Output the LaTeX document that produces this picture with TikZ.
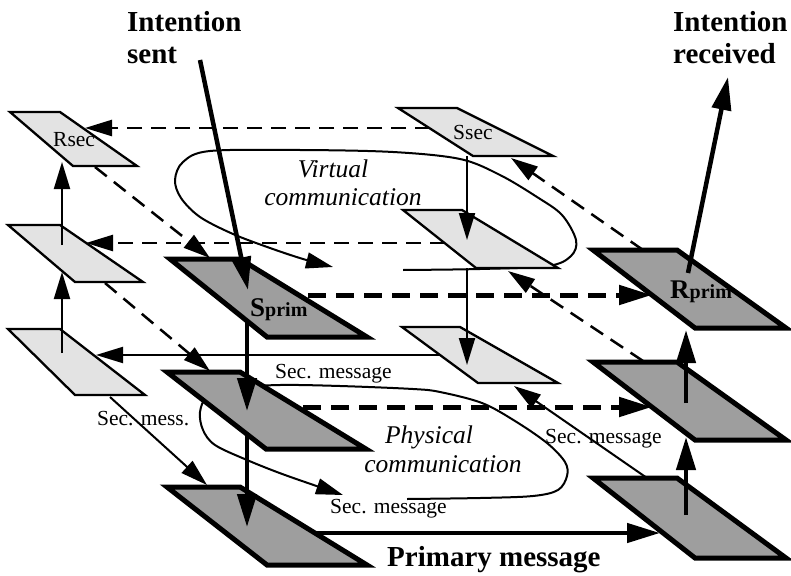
\documentclass[tikz,border=0pt]{standalone}
\usepackage{fontspec}
\setmainfont{Liberation Serif}
\usetikzlibrary{arrows.meta}
\begin{document}
\begin{tikzpicture}[x=1pt,y=-1pt,
  lightplane/.style={draw=black, line width=2.3pt, fill=black!11},
  darkplane/.style={draw=black, line width=5pt, fill=black!38},
  thinhead/.style={-{Triangle[length=27pt,width=16pt]}},
  thickhead/.style={-{Triangle[length=33pt,width=19pt]}},
  thinarrow/.style={line width=2pt, thinhead},
  thickarrow/.style={line width=4.5pt, thickhead},
  thindash/.style={line width=2.5pt, dash pattern=on 15pt off 9pt, thinhead},
  thickdash/.style={line width=5pt, dash pattern=on 18pt off 10pt, thickhead},
  commloop/.style={line width=2pt, thinhead},
  bigtext/.style={font=\fontsize{29}{32}\selectfont\bfseries, inner sep=0pt, align=left, anchor=north west},
  primarytext/.style={font=\fontsize{29}{32}\selectfont\bfseries, inner sep=0pt, anchor=base west},
  msgtext/.style={font=\fontsize{21.5}{25}\selectfont, inner sep=0pt, anchor=base west},
  commtext/.style={font=\fontsize{25.5}{28.5}\selectfont\itshape, inner sep=0pt, align=center, anchor=north},
  primtext/.style={font=\bfseries, inner sep=0pt, anchor=base west},
]
\useasboundingbox (0,0) rectangle (791,575);

% ---------- communication loops (behind the planes)
\coordinate (vstart) at (403,270);
\coordinate (vend) at (333,267);
\draw[commloop] plot[smooth, tension=0.55] coordinates {(vstart) (480,269) (548,266) (571,256) (576,240) (562,215) (537,197) (500,175) (460,159) (393,152) (300,150) (210,151) (183,162) (175,180) (181,198) (200,217) (233,234) (270,248) (303,259) (vend)};
\coordinate (pstart) at (407,499);
\coordinate (pend) at (343,495);
\draw[commloop] plot[smooth, tension=0.55] coordinates {(pstart) (480,498) (533,496) (558,490) (567,476) (565,462) (547,443) (515,421) (482,403) (440,392) (413,389) (340,386) (280,385) (235,388) (208,396) (200,412) (203,430) (215,445) (247,460) (285,475) (pend)};

% ---------- planes
\draw[lightplane] (10,112) -- (60,112) -- (137,166) -- (73,166) -- cycle;
\draw[lightplane] (8,225) -- (60,225) -- (143,282) -- (75,282) -- cycle;
\draw[lightplane] (8,329) -- (60,329) -- (145,395) -- (75,395) -- cycle;
\draw[darkplane] (170,259) -- (240,259) -- (367,337) -- (267,337) -- cycle;
\draw[darkplane] (167,372) -- (240,372) -- (366,449) -- (266,449) -- cycle;
\draw[darkplane] (167,487) -- (240,487) -- (367,565) -- (267,565) -- cycle;
\draw[lightplane] (398,108) -- (457,108) -- (553,156) -- (473,156) -- cycle;
\draw[lightplane] (403,210) -- (462,210) -- (558,268) -- (476,268) -- cycle;
\draw[lightplane] (402,327) -- (460,327) -- (558,383) -- (478,383) -- cycle;
\draw[darkplane] (593,250) -- (677,250) -- (786,328) -- (695,328) -- cycle;
\draw[darkplane] (593,362) -- (677,362) -- (786,440) -- (695,440) -- cycle;
\draw[darkplane] (593,478) -- (677,478) -- (786,558) -- (695,558) -- cycle;

% ---------- connector end points
\coordinate (l3up) at (62,353);  \coordinate (l2hit) at (62,272);
\coordinate (l2up) at (62,245);  \coordinate (l1hit) at (62,162);
\coordinate (m1dn) at (467,156); \coordinate (m2hit) at (467,240);
\coordinate (m2dn) at (467,268); \coordinate (m3hit) at (467,365);
\coordinate (isent) at (200,60); \coordinate (s1hit) at (248,290);
\coordinate (s1dn) at (247,321); \coordinate (s2hit) at (247,411);
\coordinate (s2dn) at (247,434); \coordinate (s3hit) at (247,527);
\coordinate (r3up) at (686,515); \coordinate (r2hit) at (686,437);
\coordinate (r2up) at (686,403); \coordinate (r1hit) at (686,330);
\coordinate (r1out) at (688,273); \coordinate (irecv) at (728,77);
\coordinate (m1out) at (430,128); \coordinate (l1in) at (85,128);
\coordinate (m2out) at (445,243); \coordinate (l2in) at (86,243);
\coordinate (m3out) at (440,355); \coordinate (l3in) at (96,355);
\coordinate (s1out) at (308,295); \coordinate (r1in) at (652,295);
\coordinate (s2out) at (303,407); \coordinate (r2in) at (652,407);
\coordinate (s3out) at (315,533); \coordinate (r3in) at (660,533);
\coordinate (l1out) at (95,167);  \coordinate (s1in) at (210,258);
\coordinate (l2out) at (105,283); \coordinate (s2in) at (210,371);
\coordinate (l3out) at (110,397); \coordinate (s3in) at (207,485);
\coordinate (r1dg) at (643,250);  \coordinate (m1in) at (511,158);
\coordinate (r2dg) at (643,361);  \coordinate (m2in) at (508,271);
\coordinate (r3dg) at (647,478);  \coordinate (m3in) at (514,386);

% ---------- vertical arrows
\draw[thinarrow] (l3up) -- (l2hit);
\draw[thinarrow] (l2up) -- (l1hit);
\draw[thinarrow] (m1dn) -- (m2hit);
\draw[thinarrow] (m2dn) -- (m3hit);
\draw[thickarrow] (isent) -- (s1hit);
\draw[thickarrow] (s1dn) -- (s2hit);
\draw[thickarrow] (s2dn) -- (s3hit);
\draw[thickarrow] (r3up) -- (r2hit);
\draw[thickarrow] (r2up) -- (r1hit);
\draw[thickarrow] (r1out) -- (irecv);

% ---------- horizontal arrows
\draw[thindash] (m1out) -- (l1in);
\draw[thindash] (m2out) -- (l2in);
\draw[thinarrow] (m3out) -- (l3in);
\draw[thickdash] (s1out) -- (r1in);
\draw[thickdash] (s2out) -- (r2in);
\draw[thickarrow] (s3out) -- (r3in);

% ---------- diagonal arrows
\draw[thindash] (l1out) -- (s1in);
\draw[thindash] (l2out) -- (s2in);
\draw[thinarrow] (l3out) -- (s3in);
\draw[thindash] (r1dg) -- (m1in);
\draw[thindash] (r2dg) -- (m2in);
\draw[thinarrow] (r3dg) -- (m3in);

% ---------- texts
\node[bigtext] (tsent) at (127,10.8) {Intention\\sent};
\node[bigtext] (trecv) at (673,10.8) {Intention\\received};
\node[primarytext] (tprim) at (387,566) {Primary message};
\node[commtext] (tvirt) at (343,159.6) {\hspace*{-20pt}Virtual\\communication};
\node[commtext] (tphys) at (443,425.6) {\hspace*{-28pt}Physical\\communication};
\node[msgtext] (msg1) at (275,378) {Sec. message};
\node[msgtext] (msg2) at (330,513) {Sec. message};
\node[msgtext] (msg3) at (545,443) {Sec. message};
\node[msgtext] (msg4) at (97,425) {Sec. mess.};
\node[msgtext] (trsec) at (53,146) {Rsec};
\node[msgtext] (tssec) at (453,139) {Ssec};
\node[primtext] (tsprim) at (250,316) {{\fontsize{27}{30}\selectfont S}{\fontsize{20}{24}\selectfont prim}};
\node[primtext] (trprim) at (670,298) {{\fontsize{27}{30}\selectfont R}{\fontsize{20}{24}\selectfont prim}};
\end{tikzpicture}
\end{document}
